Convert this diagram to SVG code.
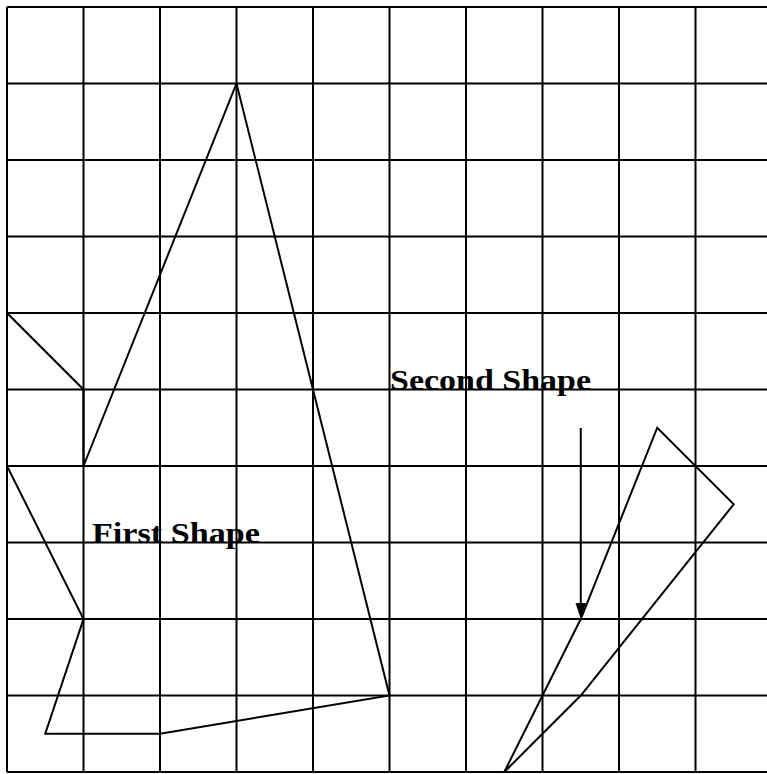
<svg xmlns="http://www.w3.org/2000/svg" width="767" height="774" viewBox="0 0 767 774">
<style>
.grid{stroke:#000;stroke-width:2;fill:none}
.shape{stroke:#000;stroke-width:2;fill:none;stroke-linejoin:miter}
.lbl{font-family:"Liberation Serif",serif;font-weight:bold;font-size:30px;fill:#000}
</style>
<rect width="767" height="774" fill="#fff"/>
<g id="grid" class="grid">
<path d="M7,7V772M83.5,7V772M160,7V772M236.5,7V772M313,7V772M389.5,7V772M466,7V772M542.5,7V772M619,7V772M695.5,7V772"/>
<path d="M7,7H767M7,83.5H767M7,160H767M7,236.5H767M7,313H767M7,389.5H767M7,466H767M7,542.5H767M7,619H767M7,695.5H767M7,772H767"/>
</g>
<g id="first-shape">
<polygon class="shape" points="236.5,83.5 389.5,695.5 160,733.75 45.25,733.75 83.5,619 7,466 7,313 83.5,389.5 83.5,466"/>
<text class="lbl" x="92" y="542.5" textLength="168" lengthAdjust="spacingAndGlyphs">First Shape</text>
</g>
<g id="second-shape">
<polygon class="shape" points="504.25,772 580.75,619 657.25,427.75 733.75,504.25 580.75,695.5"/>
<text class="lbl" x="390" y="389.5" textLength="201" lengthAdjust="spacingAndGlyphs">Second Shape</text>
</g>
<g id="connectors">
<line x1="580.75" y1="428" x2="580.75" y2="606" stroke="#000" stroke-width="2"/>
<path d="M575.5,603 L586,603 L580.75,619 Z" fill="#000"/>
</g>
</svg>
